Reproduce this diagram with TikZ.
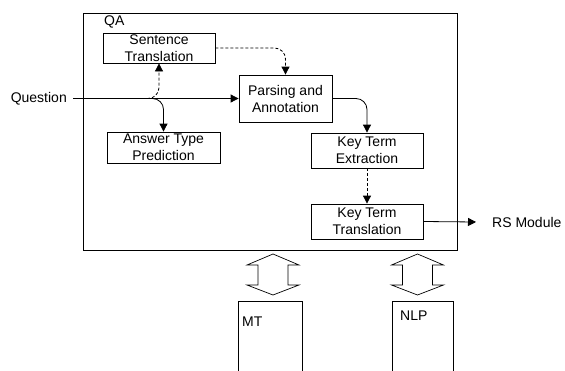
\documentclass[tikz,border=0pt]{standalone}
\usepackage{fontspec}
\setmainfont{Liberation Sans}
\usetikzlibrary{arrows.meta}
\begin{document}
\begin{tikzpicture}[x=1pt,y=-1pt,
  font=\fontsize{14}{17}\selectfont,
  box/.style={draw,line width=0.8pt,align=center,inner sep=0pt,minimum width=#1},
  conn/.style={line width=0.8pt,-{Triangle[length=8pt,width=8pt]},rounded corners=11pt},
  dconn/.style={conn,dashed,dash pattern=on 3pt off 2pt},
  blockarrow/.style={draw,line width=0.7pt,fill=white}]
\useasboundingbox (0,0) rectangle (565,370);
\clip (0,0) rectangle (565,370);
% QA frame
\node[draw,line width=0.8pt,minimum width=374pt,minimum height=237pt,inner sep=0pt] (qa) at (270,131.5) {};
\node[anchor=west,inner sep=0pt] (qalabel) at (104,22) {QA};
% boxes
\node[box=112pt,minimum height=30pt] (st) at (159,48) {Sentence\\Translation};
\node[box=113pt,minimum height=31pt] (atp) at (163.5,147.5) {Answer Type\\Prediction};
\node[box=93pt,minimum height=47pt] (pa) at (285.5,98.5) {Parsing and\\Annotation};
\node[box=112pt,minimum height=35pt] (kte) at (367,150.5) {Key Term\\Extraction};
\node[box=112pt,minimum height=35pt] (ktt) at (367,221.5) {Key Term\\Translation};
% outer labels
\node[anchor=east,inner sep=0pt] (q) at (67,98.5) {Question};
\coordinate (qs) at (73,98.5);
\coordinate (br) at (147,98.5);
\node[anchor=west,inner sep=0pt] (rs) at (492,222) {RS Module};
\coordinate (rsend) at (476,222);
% connectors
\draw[line width=0.8pt,-{Triangle[length=8pt,width=8pt]}] (qs) -- (pa.west);
\draw[dconn] (br) -| (st.south);
\draw[conn] (br) -| (atp.north);
\draw[dconn] (st.east) -| (pa.north);
\draw[conn] (pa.east) -| (kte.north);
\draw[dconn,rounded corners=0pt] (kte.south) -- (ktt.north);
\draw[line width=0.8pt,-{Triangle[length=8pt,width=8pt]}] (ktt.east) -- (rsend);
% modules
\draw[line width=0.8pt] (238,380) -- (238,301) -- (302,301) -- (302,380);
\draw[line width=0.8pt] (392,380) -- (392,301) -- (453,301) -- (453,380);
\node[anchor=west,inner sep=0pt] (mt) at (242,322) {MT};
\node[anchor=west,inner sep=0pt] (nlp) at (400,316) {NLP};
% block double arrows
\foreach \cx in {273,417.5}{
  \draw[blockarrow] (\cx,254) -- (\cx+26,265) -- (\cx+15,265) -- (\cx+15,285) -- (\cx+26,285)
    -- (\cx,295) -- (\cx-26,285) -- (\cx-15,285) -- (\cx-15,265) -- (\cx-26,265) -- cycle;
}
\end{tikzpicture}
\end{document}
